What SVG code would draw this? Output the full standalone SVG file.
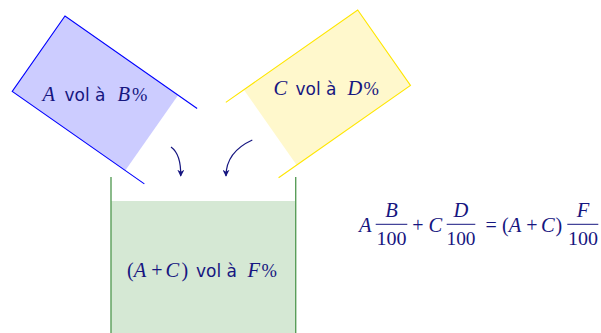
<svg xmlns="http://www.w3.org/2000/svg" width="601" height="333" viewBox="0 0 601 333">
<style>
  .m { font-family: "Liberation Serif", "Times New Roman", serif; font-style: italic; font-size: 20.5px; fill: #161680; }
  .r { font-family: "Liberation Serif", "Times New Roman", serif; font-size: 20px; fill: #161680; }
  .s { font-family: "DejaVu Sans", "Open Sans", sans-serif; font-size: 17px; fill: #161680; }
  .arr { fill: none; stroke: #161680; stroke-width: 1.2; marker-end: url(#ah); }
  .bar { stroke: #161680; stroke-width: 1; }
</style>
<defs>
  <marker id="ah" viewBox="0 0 10 10" refX="9" refY="5" markerWidth="7" markerHeight="7" markerUnits="userSpaceOnUse" orient="auto">
    <path d="M0,0 L10,5 L0,10 L3,5 Z" fill="#161680"/>
  </marker>
</defs>
<rect width="601" height="333" fill="#ffffff"/>

<g id="node-a">
  <g transform="translate(65,16) rotate(35)">
    <rect x="0" y="0" width="138" height="92" fill="#ccccff"/>
    <path d="M161.3,0 L0,0 L0,92 L161.3,92" fill="none" stroke="#0000ff" stroke-width="1.1"/>
  </g>
  <text class="m" x="42.5" y="101">A</text>
  <text class="s" x="64.5" y="101">vol à</text>
  <text class="m" x="117.5" y="101">B</text>
  <text class="r" x="132" y="101" style="font-size:18.5px">%</text>
</g>

<g id="node-c">
  <g transform="translate(357.7,10) scale(-1,1) rotate(35)">
    <rect x="0" y="0" width="139" height="92" fill="#fff8cc"/>
    <path d="M161,0 L0,0 L0,92 L161,92" fill="none" stroke="#ffe600" stroke-width="1.1"/>
  </g>
  <text class="m" x="273.5" y="95">C</text>
  <text class="s" x="295.5" y="95">vol à</text>
  <text class="m" x="347.5" y="95">D</text>
  <text class="r" x="363.5" y="95" style="font-size:18.5px">%</text>
</g>

<g id="node-mix">
  <rect x="111" y="201" width="185" height="132" fill="#d5e8d4"/>
  <path d="M111,177 L111,333 M295.7,177 L295.7,333" fill="none" stroke="#5a9e5a" stroke-width="1.4"/>
  <text class="r" x="127" y="276.7">(</text>
  <text class="m" x="133.8" y="276.7">A</text>
  <text class="r" x="157" y="276.7" text-anchor="middle">+</text>
  <text class="m" x="165.5" y="276.7">C</text>
  <text class="r" x="181.5" y="276.7">)</text>
  <text class="s" x="196" y="276.7">vol à</text>
  <text class="m" x="247.5" y="276.7">F</text>
  <text class="r" x="261.5" y="276.7" style="font-size:18.5px">%</text>
</g>

<g id="connectors">
  <path class="arr" d="M171,147 C178,152 181,161 180.7,176"/>
  <path class="arr" d="M252.3,140 C237,147 226,159 226,176"/>
</g>

<g id="equation">
  <text class="m" x="359" y="231.5">A</text>
  <line class="bar" x1="375.7" y1="224.3" x2="407.3" y2="224.3"/>
  <text class="m" x="391.5" y="216.5" text-anchor="middle">B</text>
  <text class="r" x="376.5" y="244.5" textLength="30" lengthAdjust="spacingAndGlyphs" style="font-size:18px">100</text>
  <text class="r" x="418" y="231.5" text-anchor="middle">+</text>
  <text class="m" x="428.5" y="231.5">C</text>
  <line class="bar" x1="446.7" y1="224.3" x2="475.3" y2="224.3"/>
  <text class="m" x="461" y="216.5" text-anchor="middle">D</text>
  <text class="r" x="446.5" y="244.5" textLength="29" lengthAdjust="spacingAndGlyphs" style="font-size:18px">100</text>
  <text class="r" x="491.2" y="231.5" text-anchor="middle">=</text>
  <text class="r" x="502" y="231.5">(</text>
  <text class="m" x="508.8" y="231.5">A</text>
  <text class="r" x="532" y="231.5" text-anchor="middle">+</text>
  <text class="m" x="541" y="231.5">C</text>
  <text class="r" x="555.5" y="231.5">)</text>
  <line class="bar" x1="567.3" y1="224.3" x2="598.3" y2="224.3"/>
  <text class="m" x="583" y="216.5" text-anchor="middle">F</text>
  <text class="r" x="568" y="244.5" textLength="30" lengthAdjust="spacingAndGlyphs" style="font-size:18px">100</text>
</g>
</svg>
